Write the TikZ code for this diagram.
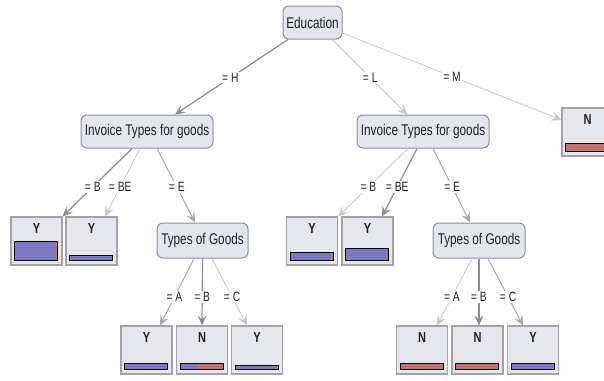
\documentclass[tikz,border=0pt]{standalone}
\usepackage{fontspec}
\setmainfont[FakeStretch=0.76]{Liberation Sans}
\usetikzlibrary{arrows.meta,calc}
\definecolor{boxfill}{HTML}{E4E6EE}
\definecolor{boxline}{HTML}{8E8E9C}
\definecolor{leaffill}{HTML}{E6E7EC}
\definecolor{leafline}{HTML}{A2A2A8}
\definecolor{barP}{HTML}{7C78C2}
\definecolor{barR}{HTML}{C27272}
\definecolor{eDark}{HTML}{8C8C8C}
\definecolor{eMid}{HTML}{A8A8A8}
\definecolor{eLight}{HTML}{C6C6C6}
\definecolor{txt}{HTML}{222222}
\newcommand\leafbar[3]{%
  \fill[barP] ($(#1.south west)+(4,-5)$) rectangle ($(#1.south west)+(4+43*#3,-5-#2)$);
  \fill[barR] ($(#1.south west)+(4+43*#3,-5)$) rectangle ($(#1.south west)+(47,-5-#2)$);
  \draw[black,line width=0.9pt] ($(#1.south west)+(4,-5)$) rectangle ($(#1.south west)+(47,-5-#2)$);
}
\tikzset{
  decision/.style={draw=boxline,fill=boxfill,rounded corners=6pt,line width=1pt,
    font=\fontsize{15.5}{17}\selectfont,text=txt,minimum height=33pt,inner xsep=3pt},
  leaf/.style={draw=leafline,fill=leaffill,line width=1.1pt,minimum width=51pt,
    font=\fontsize{14.5}{16}\selectfont\bfseries,text=txt,
    text height=12pt,text depth=28pt,inner ysep=4pt},
  lab/.style={font=\fontsize{13.5}{14}\selectfont,text=txt,fill=white,inner sep=1pt},
  edge/.style={-{Stealth[length=10pt,width=9pt,inset=4pt]}},
  edark/.style={edge,draw=eDark,line width=1.2pt},
  emid/.style={edge,draw=eMid,line width=1pt},
  elight/.style={edge,draw=eLight,line width=0.8pt},
}
\begin{document}
\begin{tikzpicture}[x=1pt,y=-1pt]
\useasboundingbox (0,0) rectangle (604,380);
\clip (0,0) rectangle (604,380);
\fill[white] (0,0) rectangle (604,380);
% decision nodes
\node[decision,minimum width=59pt] (edu) at (312.5,22.5) {Education};
\node[decision,minimum width=132pt] (inv1) at (147,131.5) {Invoice Types for goods};
\node[decision,minimum width=132pt] (inv2) at (423,131.5) {Invoice Types for goods};
\node[decision,minimum width=91pt,minimum height=35pt] (tg1) at (202.5,240.5) {Types of Goods};
\node[decision,minimum width=92pt,minimum height=35pt] (tg2) at (479,240.5) {Types of Goods};
% leaves
\node[leaf] (l1) at (36.5,241) {Y};
\node[leaf] (l2) at (91.5,241) {Y};
\node[leaf] (l3) at (312,241) {Y};
\node[leaf] (l4) at (367.5,241) {Y};
\node[leaf] (nM) at (587.5,132) {N};
\node[leaf] (b1) at (146.5,350) {Y};
\node[leaf] (b2) at (202,350) {N};
\node[leaf] (b3) at (257,350) {Y};
\node[leaf] (b4) at (422,350) {N};
\node[leaf] (b5) at (477.5,350) {N};
\node[leaf] (b6) at (533,350) {Y};
% bars
\leafbar{l1}{19}{0.96}
\leafbar{l2}{5}{0.98}
\leafbar{l3}{8}{0.96}
\leafbar{l4}{12}{0.98}
\leafbar{nM}{8}{0}
\leafbar{b1}{6}{0.98}
\leafbar{b2}{6}{0.40}
\leafbar{b3}{4}{1}
\leafbar{b4}{6}{0.05}
\leafbar{b5}{6}{0}
\leafbar{b6}{6}{1}
% edges from root
\draw[edark] ([xshift=-24.5pt]edu.south) -- node[lab,pos=0.51] {= H} ([xshift=28pt]inv1.north);
\draw[elight] ([xshift=19.5pt]edu.south) -- node[lab,pos=0.51] {= L} ([xshift=-16pt]inv2.north);
\draw[elight] ([yshift=-10.5pt]edu.east) -- node[lab,pos=0.5] {= M} ([yshift=12pt]nM.west);
% left subtree
\draw[edark] ([xshift=-15pt]inv1.south) -- node[lab,pos=0.565] {= B} (l1.north east);
\draw[elight] ([xshift=-7pt]inv1.south) -- node[lab,pos=0.565] {= BE} ([xshift=13.5pt]l2.north);
\draw[emid] ([xshift=10pt]inv1.south) -- node[lab,pos=0.52] {= E} ([xshift=-7.5pt]tg1.north);
\draw[emid] ([xshift=-8.5pt]tg1.south) -- node[lab,pos=0.574] {= A} ([xshift=13.5pt]b1.north);
\draw[edark] (tg1.south) -- node[lab,pos=0.574] {= B} (b2.north);
\draw[elight] ([xshift=9.5pt]tg1.south) -- node[lab,pos=0.574] {= C} ([xshift=-10pt]b3.north);
% right subtree
\draw[elight] ([xshift=-15pt]inv2.south) -- node[lab,pos=0.565] {= B} (l3.north east);
\draw[edark] ([xshift=-6pt]inv2.south) -- node[lab,pos=0.565] {= BE} ([xshift=14.5pt]l4.north);
\draw[emid] ([xshift=10pt]inv2.south) -- node[lab,pos=0.52] {= E} ([xshift=-9pt]tg2.north);
\draw[elight] ([xshift=-7pt]tg2.south) -- node[lab,pos=0.574] {= A} ([xshift=15pt]b4.north);
\draw[edark] (tg2.south) -- node[lab,pos=0.574] {= B} ([xshift=1.5pt]b5.north);
\draw[emid] ([xshift=9pt]tg2.south) -- node[lab,pos=0.574] {= C} ([xshift=-10pt]b6.north);
\end{tikzpicture}
\end{document}
